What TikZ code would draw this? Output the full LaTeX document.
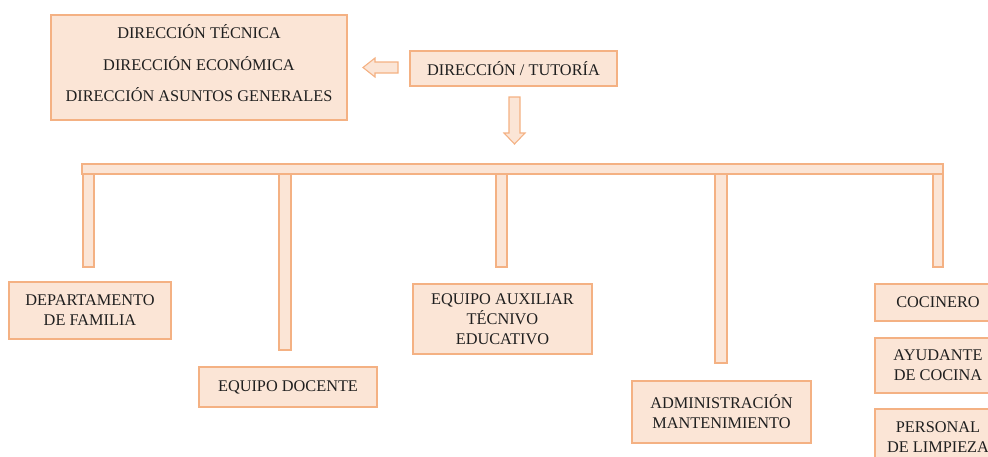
\documentclass[tikz,border=0pt]{standalone}
\usepackage{fontspec}
\setmainfont{Liberation Serif}
\definecolor{boxfill}{HTML}{FBE5D6}
\definecolor{boxline}{HTML}{F4B183}
\definecolor{txt}{HTML}{1F1F1F}
\begin{document}
\begin{tikzpicture}[x=1pt,y=-1pt,
  box/.style={draw=boxline, fill=boxfill, line width=1.2pt, inner sep=0pt,
    align=center, text=txt, font=\fontsize{16.3}{20}\selectfont},
  bar/.style={draw=boxline, fill=boxfill, line width=1.1pt},
  blockarrow/.style={draw=boxline, fill=boxfill, line width=1.1pt, line join=miter}]
\useasboundingbox (0,0) rectangle (988,456);
\clip (0,0) rectangle (988,456);
% top boxes
\node[box, minimum width=296pt, minimum height=105pt] (dirs) at (199,67.5) {};
\node[align=center, inner sep=0pt, text=txt,
  font=\fontsize{16.3}{31.5}\selectfont] (dirstext) at (199,63.5)
  {DIRECCIÓN TÉCNICA\\DIRECCIÓN ECONÓMICA\\DIRECCIÓN ASUNTOS GENERALES};
\node[box, minimum width=207pt, minimum height=35pt] (tut) at (513.5,68.5) {DIRECCIÓN / TUTORÍA};
% block arrows
\draw[blockarrow] (363,67.5) -- (375,58) -- (375,62) -- (398,62) -- (398,73) -- (375,73) -- (375,77) -- cycle;
\draw[blockarrow] (509,97) -- (520,97) -- (520,133) -- (525,133) -- (514.5,144) -- (504,133) -- (509,133) -- cycle;
% bars
\draw[bar] (82,164) rectangle (943,174);
\draw[bar] (83,174) rectangle (94,267);
\draw[bar] (279,174) rectangle (291,350);
\draw[bar] (496,174) rectangle (507,267);
\draw[bar] (715,174) rectangle (727,363);
\draw[bar] (933,174) rectangle (943,267);
% lower boxes
\node[box, minimum width=162pt, minimum height=57pt] (dep) at (90,310.5) {DEPARTAMENTO\\DE FAMILIA};
\node[box, minimum width=178pt, minimum height=40pt] (doc) at (288,387) {EQUIPO DOCENTE};
\node[box, minimum width=179pt, minimum height=70pt] (aux) at (502.5,319) {EQUIPO AUXILIAR\\TÉCNIVO\\EDUCATIVO};
\node[box, minimum width=179pt, minimum height=62pt] (adm) at (721.5,412) {ADMINISTRACIÓN\\MANTENIMIENTO};
\node[box, minimum width=126pt, minimum height=37pt] (coc) at (938,302.5) {COCINERO};
\node[box, minimum width=126pt, minimum height=55pt] (ayu) at (938,365.5) {AYUDANTE\\DE COCINA};
\node[box, minimum width=126pt, minimum height=57pt] (lim) at (938,437.5) {PERSONAL\\DE LIMPIEZA};
\end{tikzpicture}
\end{document}
